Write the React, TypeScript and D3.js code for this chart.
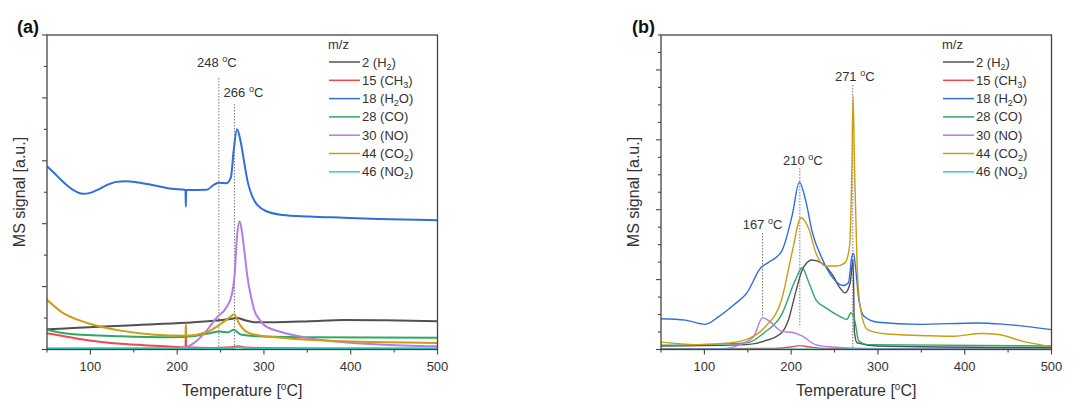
import React from 'react'
import * as d3 from 'd3'

// ---- panel (a) series: [temperature °C, signal a.u.] ----
const aH2 = [[50,0.64],[80,0.68],[115,0.73],[155,0.78],[210,0.85],[245,0.92],[262,0.97],[269,1.0],[278,0.93],[289,0.87],[313,0.87],[352,0.9],[392,0.94],[440,0.93],[500,0.9]]
const aCH3 = [[50,0.52],[70,0.42],[95,0.3],[135,0.18],[175,0.12],[209.6,0.07],[210,0.42],[210.4,0.07],[240,0.05],[262,0.07],[270,0.1],[280,0.06],[320,0.04],[400,0.03],[500,0.02]]
const aH2O = [[50,5.83],[58,5.62],[66,5.4],[74,5.2],[82,5.04],[91,4.95],[100,4.98],[110,5.1],[120,5.24],[130,5.33],[140,5.35],[155,5.31],[170,5.24],[194,5.11],[209.6,5.07],[210,4.54],[210.4,5.07],[234,5.08],[243,5.25],[248,5.3],[257,5.29],[262,5.48],[265,6.3],[269,7.0],[273,6.64],[277,6.0],[281,5.37],[289,4.73],[301,4.42],[321,4.28],[352,4.23],[392,4.19],[432,4.15],[500,4.11]]
const aCO = [[50,0.63],[75,0.5],[135,0.42],[194,0.39],[220,0.43],[234,0.5],[249,0.57],[259,0.55],[265,0.63],[273,0.48],[300,0.41],[350,0.39],[500,0.37]]
const aNO = [[50,0.03],[150,0.03],[200,0.04],[210,0.07],[218,0.18],[234,0.6],[245,1.0],[257,1.35],[263,1.75],[266,2.3],[269,3.6],[272,4.08],[275,3.68],[278,3.0],[281,2.3],[285,1.7],[289,1.24],[295,0.95],[301,0.76],[321,0.55],[352,0.36],[392,0.23],[432,0.16],[500,0.1]]
const aCO2 = [[50,1.58],[67,1.19],[85,0.95],[99,0.82],[135,0.6],[174,0.47],[209.6,0.44],[210,0.8],[210.4,0.44],[234,0.55],[249,0.79],[261,1.03],[265.5,1.12],[270,0.9],[273,0.76],[285,0.5],[313,0.39],[352,0.31],[392,0.26],[500,0.21]]
const aNO2 = [[50,0.03],[250,0.03],[262,0.04],[270,0.07],[280,0.04],[300,0.03],[500,0.03]]

// ---- panel (b) series ----
const bH2 = [[50,0.1],[149,0.14],[169,0.24],[189,0.48],[197,0.86],[205,1.62],[213,2.29],[224,2.56],[236,2.46],[248,2.12],[256,1.77],[262,1.62],[268,1.91],[271.3,2.58],[273,0.48],[276,0.19],[300,0.1],[500,0.05]]
const bCH3 = [[50,0.02],[180,0.03],[200,0.07],[210,0.11],[222,0.07],[240,0.03],[500,0.02]]
const bH2O = [[50,0.88],[78,0.84],[101,0.72],[117,0.95],[133,1.26],[149,1.62],[165,2.34],[173,2.48],[189,2.81],[201,3.82],[209.5,4.79],[216.5,4.29],[224.5,3.34],[236,2.58],[248,2.05],[260,1.83],[266,1.91],[270,2.67],[272,2.75],[274,2.39],[278,1.43],[284,0.95],[300,0.78],[347,0.72],[415,0.76],[446,0.72],[500,0.57]]
const bCO = [[50,0.12],[149,0.19],[169,0.48],[189,1.0],[205,2.0],[212.6,2.34],[220.5,1.91],[228.4,1.43],[240,1.19],[256,0.95],[264,0.86],[269,1.05],[273,0.86],[278,0.24],[288,0.14],[500,0.1]]
const bNO = [[50,0],[121,0.02],[141,0.14],[157,0.38],[167,0.91],[175,0.81],[189,0.52],[203,0.48],[213,0.38],[228,0.14],[248,0.07],[288,0.02],[500,0.01]]
const bCO2 = [[50,0.21],[90,0.14],[129,0.19],[149,0.29],[169,0.62],[189,1.43],[201,2.77],[211.4,3.77],[220.5,3.44],[228.4,2.77],[240,2.39],[252,2.39],[262,2.48],[267.3,2.96],[270,5.25],[271.3,7.25],[273,5.25],[276,2.39],[280,1.15],[288,0.57],[308,0.45],[347,0.4],[387,0.38],[419,0.46],[439,0.43],[466,0.24],[500,0.08]]
const bNO2 = [[50,0.01],[500,0.01]]

// legend labels: [before subscript, subscript, after]
const legendLabels = [
  ['2 (H', '2', ')'],
  ['15 (CH', '3', ')'],
  ['18 (H', '2', 'O)'],
  ['28 (CO)', '', ''],
  ['30 (NO)', '', ''],
  ['44 (CO', '2', ')'],
  ['46 (NO', '2', ')'],
]
const colors = ['#505050', '#f24848', '#2f6fdc', '#2fa862', '#b47ce6', '#cc9d10', '#2ccfc6']

const xTicks = [100, 200, 300, 400, 500]
const annotA = [
  { t: 248, label: '248', top: 78, ty: 67, dx: -2 },
  { t: 266, label: '266', top: 104, ty: 97, dx: 9 },
]
const annotB = [
  { t: 167, label: '167', top: 233, bottom: 0.95, ty: 229, dx: 0 },
  { t: 210, label: '210', top: 168, bottom: 0.7, ty: 165, dx: 3 },
  { t: 271, label: '271', top: 85, ty: 81, dx: 2 },
]

const font = '"Liberation Sans", Arial, sans-serif'

const Panel = ({ id, tag, left, right, series, yMax, lw, annots, legendX }) => {
  const top = 35
  const bottom = 349.5
  const x = d3.scaleLinear().domain([50, 500]).range([left, right])
  const y = d3.scaleLinear().domain([0, yMax]).range([bottom, top])
  const line = d3
    .line()
    .x((d) => x(d[0]))
    .y((d) => y(d[1]))
    .curve(d3.curveMonotoneX)
  const minorX = d3.range(50, 501, 50)
  const minorY = d3.range(0, yMax + 0.001, yMax > 9.5 ? 1 : 0.5)
  const majorStep = 2
  return (
    <g fontFamily={font} fill="#222">
      <defs>
        <clipPath id={`clip-${id}`}>
          <rect x={left} y={top} width={right - left} height={bottom - top} />
        </clipPath>
      </defs>
      <text x={tag.x} y={33} fontSize={18} fontWeight="bold" fill="#111">
        {tag.text}
      </text>
      {/* annotations */}
      {annots.map((a) => (
        <g key={a.t}>
          <line
            x1={x(a.t)}
            x2={x(a.t)}
            y1={a.top}
            y2={a.bottom != null ? y(a.bottom) : bottom}
            stroke="#777"
            strokeWidth={1}
            strokeDasharray="1.5,1.5"
          />
          <text x={x(a.t) + a.dx} y={a.ty} fontSize={13} textAnchor="middle" fill="#333">
            {a.label + ' '}
            <tspan fontSize={9} dy={-5}>o</tspan>
            <tspan dy={5}>C</tspan>
          </text>
        </g>
      ))}
      <g clipPath={`url(#clip-${id})`}>
        {series.map((s, i) => (
          <path key={i} d={line(s)} fill="none" stroke={colors[i]} strokeWidth={lw} strokeLinejoin="round" />
        ))}
      </g>
      {/* frame */}
      <rect x={left} y={top} width={right - left} height={bottom - top} fill="none" stroke="#444" strokeWidth={1.3} />
      {minorX.map((t) => (
        <line key={t} x1={x(t)} x2={x(t)} y1={bottom} y2={bottom + (t % 100 === 0 ? 5 : 3)} stroke="#444" strokeWidth={1.1} />
      ))}
      {xTicks.map((t) => (
        <text key={t} x={x(t)} y={371} fontSize={13} textAnchor="middle" fill="#333">
          {t}
        </text>
      ))}
      {minorY.map((v) => (
        <line
          key={v}
          x1={left}
          x2={left - (Math.abs(v / majorStep - Math.round(v / majorStep)) < 0.01 ? 5 : 3)}
          y1={y(v)}
          y2={y(v)}
          stroke="#444"
          strokeWidth={1.1}
        />
      ))}
      <text x={(left + right) / 2} y={396} fontSize={16} textAnchor="middle" fill="#333">
        Temperature [<tspan fontSize={10} dy={-6}>o</tspan>
        <tspan dy={6}>C]</tspan>
      </text>
      <text
        transform={`translate(${left - 22},${192}) rotate(-90)`}
        fontSize={16}
        textAnchor="middle"
        fill="#333"
      >
        MS signal [a.u.]
      </text>
      {/* legend */}
      <text x={legendX} y={49} fontSize={13} fill="#333">
        m/z
      </text>
      {legendLabels.map((l, i) => {
        const ly = 62 + i * 18.3
        return (
          <g key={i}>
            <line x1={legendX + 1} x2={legendX + 32} y1={ly} y2={ly} stroke={colors[i]} strokeWidth={1.5} />
            <text x={legendX + 34} y={ly + 4.5} fontSize={13} fill="#333">
              {l[0]}
              {l[1] && (
                <tspan fontSize={9} dy={3}>
                  {l[1]}
                </tspan>
              )}
              {l[2] && <tspan dy={l[1] ? -3 : 0}>{l[2]}</tspan>}
            </text>
          </g>
        )
      })}
    </g>
  )
}

export default function App() {
  return (
    <svg
      width={1080}
      height={416}
      style={{ position: 'absolute', left: 0, top: 0, background: '#fff' }}
    >
      <Panel
        id="a"
        tag={{ x: 17, text: '(a)' }}
        left={47}
        right={437.5}
        series={[aH2, aCH3, aH2O, aCO, aNO, aCO2, aNO2]}
        yMax={10}
        lw={2}
        annots={annotA}
        legendX={328}
      />
      <Panel
        id="b"
        tag={{ x: 632, text: '(b)' }}
        left={661}
        right={1051.5}
        series={[bH2, bCH3, bH2O, bCO, bNO, bCO2, bNO2]}
        yMax={9}
        lw={1.4}
        annots={annotB}
        legendX={942}
      />
    </svg>
  )
}
